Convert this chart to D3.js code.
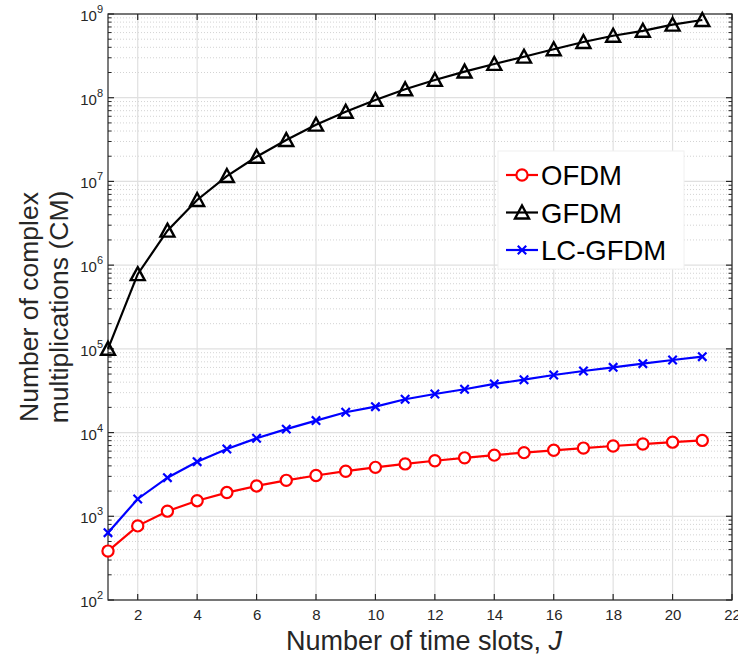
<!DOCTYPE html>
<html>
<head>
<meta charset="utf-8">
<script src="https://cdn.jsdelivr.net/npm/d3@7/dist/d3.min.js"></script>
<style>
  body { margin: 0; background: #fff; }
  svg { display: block; font-family: "Liberation Sans", Arial, Helvetica, sans-serif; }
</style>
</head>
<body>
<svg id="chart" width="738" height="659"></svg>
<script>
// Number of time slots J
const slots = [1,2,3,4,5,6,7,8,9,10,11,12,13,14,15,16,17,18,19,20,21];

// Complex multiplications per scheme
const ofdmCM = [384,768,1152,1536,1920,2304,2688,3072,3456,3840,4224,4608,4992,5376,5760,6144,6528,6912,7296,7680,8064];
const gfdmCM = [1.0e5,7.8e5,2.58e6,6.0e6,1.16e7,1.97e7,3.12e7,4.76e7,6.8e7,9.4e7,1.26e8,1.63e8,2.05e8,2.53e8,3.09e8,3.79e8,4.63e8,5.5e8,6.3e8,7.45e8,8.48e8];
const lcgfdmCM = [637,1610,2890,4490,6370,8550,11000,13900,17500,20400,25000,28900,32900,38100,42800,48700,54400,60200,66500,73600,80700];

const xTicks = [2,4,6,8,10,12,14,16,18,20,22];
const yExponents = [2,3,4,5,6,7,8,9];

const seriesNames = ["OFDM","GFDM","LC-GFDM"];
const seriesColors = ["#ff0000","#000000","#0000ff"];
const seriesMarkers = ["circle","triangle","cross"];

const margin = {left: 108, top: 14, right: 6, bottom: 59};
const W = 738, H = 659;
const x0 = margin.left, x1 = W - margin.right, y0 = margin.top, y1 = H - margin.bottom;

const svg = d3.select("#chart");
const x = d3.scaleLinear().domain([1,22]).range([x0, x1]);
const y = d3.scaleLog().domain([1e2,1e9]).range([y1, y0]);

// grid
const grid = svg.append("g");
const minorVals = [];
for (let e = 2; e < 9; e++) for (let m = 2; m <= 9; m++) minorVals.push(m * Math.pow(10, e));
grid.selectAll("line.minor").data(minorVals).enter().append("line")
  .attr("x1", x0).attr("x2", x1)
  .attr("y1", d => y(d)).attr("y2", d => y(d))
  .attr("stroke", "#c8c8c8").attr("stroke-width", 0.8).attr("stroke-dasharray", "1,2");
grid.selectAll("line.majorY").data(yExponents.map(e => Math.pow(10, e))).enter().append("line")
  .attr("x1", x0).attr("x2", x1)
  .attr("y1", d => y(d)).attr("y2", d => y(d))
  .attr("stroke", "#e0e0e0").attr("stroke-width", 1.2);
grid.selectAll("line.majorX").data(xTicks).enter().append("line")
  .attr("x1", d => x(d)).attr("x2", d => x(d))
  .attr("y1", y0).attr("y2", y1)
  .attr("stroke", "#e0e0e0").attr("stroke-width", 1.2);

// axes box and ticks
const axisColor = "#262626";
const axes = svg.append("g");
axes.append("rect").attr("x", x0).attr("y", y0).attr("width", x1 - x0).attr("height", y1 - y0)
  .attr("fill", "none").attr("stroke", axisColor).attr("stroke-width", 1.2);

const xAxis = d3.axisBottom(x).tickValues(xTicks).tickSize(0).tickPadding(9);
const gx = svg.append("g").attr("transform", `translate(0,${y1})`).call(xAxis);
gx.select(".domain").remove();
gx.selectAll("text").attr("font-size", 15).attr("fill", axisColor)
  .attr("font-family", "Liberation Sans, Arial, sans-serif");

xTicks.forEach(t => {
  axes.append("line").attr("x1", x(t)).attr("x2", x(t)).attr("y1", y1).attr("y2", y1 - 6)
    .attr("stroke", axisColor).attr("stroke-width", 1.2);
  axes.append("line").attr("x1", x(t)).attr("x2", x(t)).attr("y1", y0).attr("y2", y0 + 6)
    .attr("stroke", axisColor).attr("stroke-width", 1.2);
});
yExponents.forEach(e => {
  const yy = y(Math.pow(10, e));
  axes.append("line").attr("x1", x0).attr("x2", x0 + 6).attr("y1", yy).attr("y2", yy)
    .attr("stroke", axisColor).attr("stroke-width", 1.2);
  axes.append("line").attr("x1", x1).attr("x2", x1 - 6).attr("y1", yy).attr("y2", yy)
    .attr("stroke", axisColor).attr("stroke-width", 1.2);
});
minorVals.forEach(v => {
  const yy = y(v);
  axes.append("line").attr("x1", x0).attr("x2", x0 + 3.5).attr("y1", yy).attr("y2", yy)
    .attr("stroke", axisColor).attr("stroke-width", 1);
  axes.append("line").attr("x1", x1).attr("x2", x1 - 3.5).attr("y1", yy).attr("y2", yy)
    .attr("stroke", axisColor).attr("stroke-width", 1);
});

// y tick labels 10^e
const yl = svg.append("g");
yExponents.forEach(e => {
  const t = yl.append("text").attr("x", x0 - 5).attr("y", y(Math.pow(10, e)) + 7)
    .attr("text-anchor", "end").attr("fill", axisColor).attr("font-size", 15);
  t.append("tspan").text("10");
  t.append("tspan").attr("dy", -8).attr("font-size", 11).text(e);
});

// series
const line = d3.line().x((d, i) => x(slots[i])).y(d => y(d));
const seriesData = [ofdmCM, gfdmCM, lcgfdmCM];

function drawMarker(g, type, cx, cy, color) {
  if (type === "circle") {
    g.append("circle").attr("cx", cx).attr("cy", cy).attr("r", 5.6)
      .attr("fill", "#fff").attr("stroke", color).attr("stroke-width", 2.2);
  } else if (type === "triangle") {
    const s = 7;
    g.append("path")
      .attr("d", `M${cx},${cy - s} L${cx + s},${cy + s * 0.85} L${cx - s},${cy + s * 0.85} Z`)
      .attr("fill", "none").attr("stroke", color).attr("stroke-width", 2.4)
      .attr("stroke-linejoin", "miter");
  } else {
    const s = 4.2;
    g.append("path")
      .attr("d", `M${cx - s},${cy - s} L${cx + s},${cy + s} M${cx - s},${cy + s} L${cx + s},${cy - s}`)
      .attr("stroke", color).attr("stroke-width", 2.2);
  }
}

const plot = svg.append("g");
[1, 2, 0].forEach(k => {
  const data = seriesData[k];
  const g = plot.append("g");
  g.append("path").datum(data).attr("d", line).attr("fill", "none")
    .attr("stroke", seriesColors[k]).attr("stroke-width", 2.2);
  data.forEach((v, i) => drawMarker(g, seriesMarkers[k], x(slots[i]), y(v), seriesColors[k]));
});

// legend
const lg = svg.append("g");
lg.append("rect").attr("x", 498).attr("y", 151).attr("width", 186).attr("height", 118)
  .attr("fill", "#fff").attr("stroke", "#f0f0f0").attr("stroke-width", 1);
seriesNames.forEach((name, k) => {
  const ly = 175 + k * 37.5;
  lg.append("line").attr("x1", 506).attr("x2", 538).attr("y1", ly).attr("y2", ly)
    .attr("stroke", seriesColors[k]).attr("stroke-width", 2.2);
  drawMarker(lg, seriesMarkers[k], 522, ly, seriesColors[k]);
  lg.append("text").attr("x", 541).attr("y", ly + 10).attr("font-size", 27.5)
    .attr("fill", "#000").text(name);
});

// axis labels
svg.append("text").attr("x", (x0 + x1) / 2 + 4).attr("y", 650).attr("text-anchor", "middle")
  .attr("font-size", 27).attr("fill", axisColor)
  .html('Number of time slots, <tspan font-style="italic">J</tspan>');
const ylab = svg.append("text").attr("transform", `translate(0,${(y0 + y1) / 2}) rotate(-90)`)
  .attr("text-anchor", "middle").attr("font-size", 26.5).attr("fill", axisColor);
ylab.append("tspan").attr("x", 0).attr("y", 38).text("Number of complex");
ylab.append("tspan").attr("x", 0).attr("y", 68).text("multiplications (CM)");
</script>
</body>
</html>
